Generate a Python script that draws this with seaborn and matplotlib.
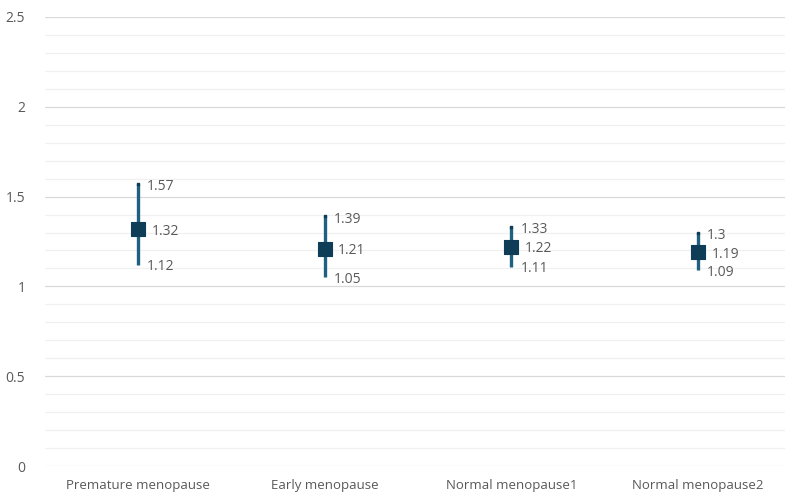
import matplotlib
matplotlib.use("Agg")
import matplotlib.pyplot as plt
import seaborn as sns
import pandas as pd
from matplotlib.ticker import MultipleLocator

categories = ["Premature menopause", "Early menopause", "Normal menopause1", "Normal menopause2"]
estimate = [1.32, 1.21, 1.22, 1.19]
lower = [1.12, 1.05, 1.11, 1.09]
upper = [1.57, 1.39, 1.33, 1.30]
yticks = [0, 0.5, 1, 1.5, 2, 2.5]
ytick_labels = ["0", "0.5", "1", "1.5", "2", "2.5"]

df = pd.DataFrame({"category": categories, "estimate": estimate,
                   "lower": lower, "upper": upper})

sns.set_style("white")
plt.rcParams["font.family"] = ["Open Sans", "DejaVu Sans"]

fig = plt.figure(figsize=(7.85, 4.99), dpi=100)
ax = fig.add_axes([0.057, 0.066, 0.943, 0.9])

x = list(range(len(categories)))
line_color = "#1f6080"
marker_color = "#0f3d57"
text_color = "#595959"

ax.vlines(x, df["lower"], df["upper"], color=line_color, linewidth=2.4, zorder=3)
ax.scatter(x, df["upper"], s=4, color=marker_color, zorder=4, marker="s")
sns.scatterplot(data=df, x="category", y="estimate", marker="s", s=100,
                color=marker_color, edgecolor=marker_color, ax=ax, zorder=5, legend=False)

for i, (e, lo, hi) in enumerate(zip(estimate, lower, upper)):
    ax.annotate(f"{hi:g}", (i, hi), xytext=(6.5, -2), textcoords="offset points",
                ha="left", va="center", fontsize=10, color=text_color)
    ax.annotate(f"{e:g}", (i, e), xytext=(9.5, -1.5), textcoords="offset points",
                ha="left", va="center", fontsize=10, color=text_color)
    ax.annotate(f"{lo:g}", (i, lo), xytext=(6.5, -1.5), textcoords="offset points",
                ha="left", va="center", fontsize=10, color=text_color)

ax.set_xlim(-0.5, 3.465)
ax.set_ylim(0, 2.5)
ax.set_yticks(yticks)
ax.set_yticklabels(ytick_labels)
ax.yaxis.set_minor_locator(MultipleLocator(0.1))
ax.grid(which="major", axis="y", color="#d9d9d9", linewidth=0.9)
ax.grid(which="minor", axis="y", color="#f0f0f0", linewidth=0.9)
ax.set_axisbelow(True)
for s in ax.spines.values():
    s.set_visible(False)
ax.tick_params(axis="both", which="both", length=0, labelsize=9.5, labelcolor=text_color)
ax.tick_params(axis="y", labelsize=10)
ax.tick_params(axis="x", pad=9)
ax.tick_params(axis="y", pad=14)
ax.set_xlabel("")
ax.set_ylabel("")

fig.savefig("out.png", dpi=100)
